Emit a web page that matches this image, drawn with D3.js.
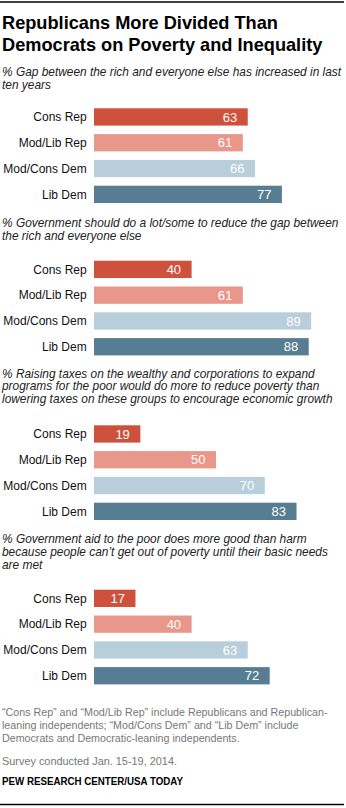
<!DOCTYPE html>
<html>
<head>
<meta charset="utf-8">
<script src="https://cdn.jsdelivr.net/npm/d3@7"></script>
<style>
  html, body { margin: 0; padding: 0; background: #fff; }
  svg { display: block; }
</style>
</head>
<body>
<div id="chart"></div>
<script>
// ---- Data ----
const title = ["Republicans More Divided Than", "Democrats on Poverty and Inequality"];
const categories = ["Cons Rep", "Mod/Lib Rep", "Mod/Cons Dem", "Lib Dem"];
const questions = [
  ["% Gap between the rich and everyone else has increased in last", "ten years"],
  ["% Government should do a lot/some to reduce the gap between", "the rich and everyone else"],
  ["% Raising taxes on the wealthy and corporations to expand", "programs for the poor would do more to reduce poverty than", "lowering taxes on these groups to encourage economic growth"],
  ["% Government aid to the poor does more good than harm", "because people can\u2019t get out of poverty until their basic needs", "are met"]
];
const gapIncreased = [63, 61, 66, 77];
const govReduceGap = [40, 61, 89, 88];
const raiseTaxes = [19, 50, 70, 83];
const govAidGood = [17, 40, 63, 72];
const seriesValues = [gapIncreased, govReduceGap, raiseTaxes, govAidGood];
const notes = [
  "\u201cCons Rep\u201d and \u201cMod/Lib Rep\u201d include Republicans and Republican-",
  "leaning independents; \u201cMod/Cons Dem\u201d and \u201cLib Dem\u201d include",
  "Democrats and Democratic-leaning independents."
];
const surveyNote = "Survey conducted Jan. 15-19, 2014.";
const source = "PEW RESEARCH CENTER/USA TODAY";

// ---- Layout ----
const W = 346, H = 808;
const colors = ["#CE513C", "#E9978A", "#B9CEDB", "#577D93"];
const groupTitleBaseline = [76, 227.3, 377.6, 543.3];
const groupBarTop = [108.3, 260.7, 425.3, 589.7];
const lineH = 12.6;

const svg = d3.select("#chart").append("svg")
  .attr("width", W).attr("height", H)
  .style("font-family", "'Liberation Sans', Arial, sans-serif");

svg.append("line").attr("x1", 0).attr("x2", 344).attr("y1", 2).attr("y2", 2)
  .attr("stroke", "#000").attr("stroke-width", 1.3);
svg.append("line").attr("x1", 0).attr("x2", 344).attr("y1", 804.5).attr("y2", 804.5)
  .attr("stroke", "#000").attr("stroke-width", 1.3);

svg.append("g").selectAll("text").data(title).join("text")
  .attr("x", 2).attr("y", (d, i) => 28.5 + i * 22.5)
  .attr("font-size", 18.2).attr("font-weight", "bold").attr("fill", "#000")
  .text(d => d);

const x = d3.scaleLinear().domain([0, 100]).range([94, 338]);
const color = d3.scaleOrdinal().domain(categories).range(colors);

seriesValues.forEach((vals, gi) => {
  const g = svg.append("g");
  g.selectAll("text.q").data(questions[gi]).join("text")
    .attr("class", "q")
    .attr("x", 2).attr("y", (d, i) => groupTitleBaseline[gi] + i * lineH)
    .attr("font-size", 11.9).attr("font-style", "italic").attr("fill", "#222")
    .text(d => d);

  const y = d3.scaleBand().domain(categories)
    .range([groupBarTop[gi], groupBarTop[gi] + 94.7]).paddingInner(0.33).paddingOuter(0);

  const data = categories.map((c, i) => ({ c, v: vals[i] }));
  g.selectAll("rect").data(data).join("rect")
    .attr("x", x(0)).attr("y", d => y(d.c))
    .attr("width", d => x(d.v) - x(0)).attr("height", y.bandwidth())
    .attr("fill", d => color(d.c));

  g.selectAll("text.cat").data(data).join("text")
    .attr("class", "cat")
    .attr("x", x(0) - 7.3).attr("y", d => y(d.c) + y.bandwidth() / 2 + 4.3)
    .attr("text-anchor", "end").attr("font-size", 12).attr("fill", "#111")
    .text(d => d.c);

  g.selectAll("text.val").data(data).join("text")
    .attr("class", "val")
    .attr("x", d => x(d.v) - 10.5).attr("y", d => y(d.c) + y.bandwidth() / 2 + 4.6)
    .attr("text-anchor", "end").attr("font-size", 13).attr("fill", "#fff")
    .text(d => d.v);
});

svg.append("g").selectAll("text").data(notes).join("text")
  .attr("x", 2).attr("y", (d, i) => 716 + i * 13.2)
  .attr("font-size", 10.7).attr("fill", "#777")
  .text(d => d);
svg.append("text").attr("x", 2).attr("y", 764.5)
  .attr("font-size", 10.9).attr("fill", "#777").text(surveyNote);
svg.append("text").attr("x", 2).attr("y", 784.5)
  .attr("font-size", 10.8).attr("font-weight", "bold").attr("fill", "#000")
  .attr("textLength", 181).attr("lengthAdjust", "spacingAndGlyphs").text(source);
</script>
</body>
</html>
